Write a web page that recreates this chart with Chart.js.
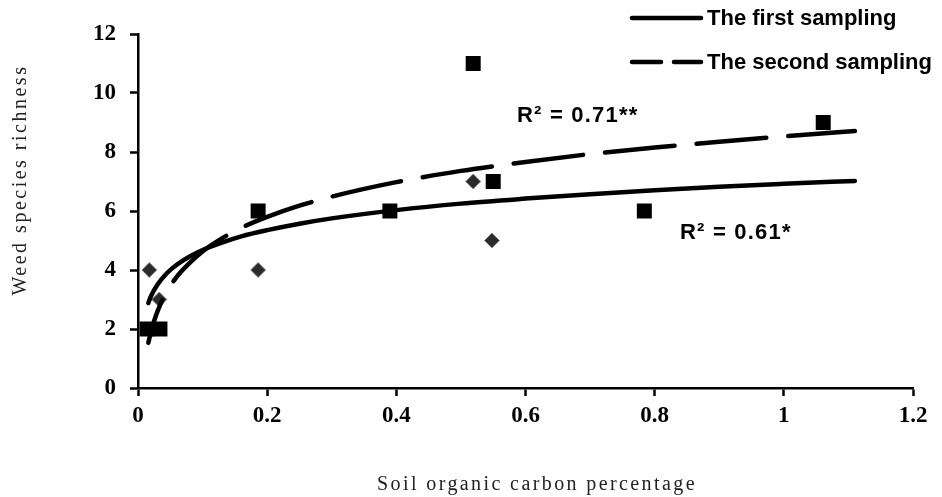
<!DOCTYPE html>
<html>
<head>
<meta charset="utf-8">
<script src="https://cdn.jsdelivr.net/npm/chart.js@4/dist/chart.umd.min.js"></script>
<style>
  html, body { margin: 0; padding: 0; background: #fff; }
  #wrap { width: 942px; height: 497px; }
</style>
</head>
<body>
<div id="wrap"><canvas id="grafico"></canvas></div>
<script>
// dados
const xTicks = [0, 0.2, 0.4, 0.6, 0.8, 1, 1.2]
const yTicks = [0, 2, 4, 6, 8, 10, 12]

const seriesNames = ['The first sampling', 'The second sampling']
const rLabels = ['R\u00b2 = 0.61*', 'R\u00b2 = 0.71**']

// primeira amostragem (losangos)
const firstX = [0.0175, 0.033, 0.186, 0.519, 0.548]
const firstY = [4, 3, 4, 7, 5]

// segunda amostragem (quadrados)
const secondX = [0.014, 0.034, 0.186, 0.39, 0.519, 0.55, 0.784, 1.061]
const secondY = [2, 2, 6, 6, 11, 7, 6, 9]

// linhas de tendência
const trendX = [0.016, 0.02, 0.03, 0.045, 0.06, 0.08, 0.1, 0.13, 0.16, 0.2, 0.25, 0.3, 0.4, 0.5, 0.6, 0.7, 0.8, 0.9, 1.0, 1.11]
const firstTrend = [2.88, 3.11, 3.5, 3.9, 4.18, 4.46, 4.68, 4.93, 5.14, 5.35, 5.57, 5.75, 6.03, 6.25, 6.42, 6.57, 6.7, 6.82, 6.92, 7.02]
const secondTrend = [1.53, 1.91, 2.59, 3.28, 3.77, 4.24, 4.63, 5.07, 5.43, 5.8, 6.18, 6.49, 6.98, 7.36, 7.66, 7.93, 8.15, 8.35, 8.53, 8.71]

const pts = (xs, ys) => xs.map((x, i) => ({ x, y: ys[i] }))

Chart.defaults.color = '#000'
Chart.defaults.font.family = 'Liberation Serif'

const tickFont = { family: 'Liberation Serif', size: 23, weight: 'bold' }

// legenda, R² e títulos dos eixos
const extras = {
  id: 'extras',
  afterDraw(chart) {
    const c = chart.ctx
    c.save()
    c.strokeStyle = '#000'
    c.lineWidth = 4.5
    c.lineCap = 'round'
    c.beginPath()
    c.moveTo(632, 18); c.lineTo(701, 18)
    c.stroke()
    c.setLineDash([29, 13])
    c.beginPath()
    c.moveTo(632, 62); c.lineTo(701, 62)
    c.stroke()
    c.setLineDash([])

    c.fillStyle = '#000'
    c.textBaseline = 'middle'
    c.textAlign = 'left'
    c.font = 'bold 22px "Liberation Sans"'
    c.fillText(seriesNames[0], 707, 19)
    c.fillText(seriesNames[1], 707, 63)

    c.font = 'bold 22px "Liberation Sans"'
    c.letterSpacing = '1.2px'
    c.fillText(rLabels[1], 517, 116)
    c.fillText(rLabels[0], 680, 233)

    c.fillStyle = '#222'
    c.font = '20px "Liberation Serif"'
    c.letterSpacing = '2.4px'
    c.textAlign = 'center'
    c.fillText('Soil organic carbon percentage', 537, 485)
    c.translate(21, 180)
    c.rotate(-Math.PI / 2)
    c.letterSpacing = '2.5px'
    c.fillText('Weed species richness', 0, 0)
    c.restore()
  }
}

const config = {
  type: 'scatter',
  data: {
    datasets: [
      {
        label: seriesNames[0] + ' (trend)',
        data: pts(trendX, firstTrend),
        showLine: true,
        pointRadius: 0,
        borderColor: '#000',
        borderWidth: 4.5,
        cubicInterpolationMode: 'monotone',
        borderCapStyle: 'round',
        order: 1
      },
      {
        label: seriesNames[1] + ' (trend)',
        data: pts(trendX, secondTrend),
        showLine: true,
        pointRadius: 0,
        borderColor: '#000',
        borderWidth: 4.5,
        borderDash: [70, 22],
        borderDashOffset: 25,
        borderCapStyle: 'round',
        cubicInterpolationMode: 'monotone',
        order: 2
      },
      {
        label: seriesNames[0],
        data: pts(firstX, firstY),
        pointStyle: 'rectRot',
        pointRadius: 7.5,
        pointBackgroundColor: '#2b2b2b',
        pointBorderColor: '#8a8a8a',
        pointBorderWidth: 1,
        order: 4
      },
      {
        label: seriesNames[1],
        data: pts(secondX, secondY),
        pointStyle: 'rect',
        pointRadius: 10.6,
        pointBackgroundColor: '#000',
        pointBorderWidth: 0,
        order: 3
      }
    ]
  },
  options: {
    responsive: true,
    maintainAspectRatio: false,
    animation: false,
    events: [],
    devicePixelRatio: 1,
    layout: { padding: { left: 0, right: 29, top: 34, bottom: 0 } },
    plugins: { legend: { display: false }, tooltip: { enabled: false } },
    scales: {
      x: {
        type: 'linear',
        min: 0,
        max: 1.2,
        afterBuildTicks(s) { s.ticks = xTicks.map(v => ({ value: v })) },
        afterFit(s) { s.height = 109 },
        grid: { drawOnChartArea: false, drawTicks: true, tickLength: 8, tickWidth: 2.5, color: '#000' },
        border: { display: true, color: '#000', width: 2.5 },
        ticks: { font: tickFont, color: '#000', padding: 6, maxRotation: 0, callback: v => String(v) }
      },
      y: {
        type: 'linear',
        min: 0,
        max: 12,
        afterBuildTicks(s) { s.ticks = yTicks.map(v => ({ value: v })) },
        afterFit(s) { s.width = 138 },
        grid: { drawOnChartArea: false, drawTicks: true, tickLength: 8, tickWidth: 2.5, color: '#000' },
        border: { display: true, color: '#000', width: 2.5 },
        ticks: { font: tickFont, color: '#000', padding: 14, callback: v => String(v) }
      }
    }
  },
  plugins: [extras]
}

const graph = new Chart(document.getElementById('grafico'), config)
</script>
</body>
</html>
